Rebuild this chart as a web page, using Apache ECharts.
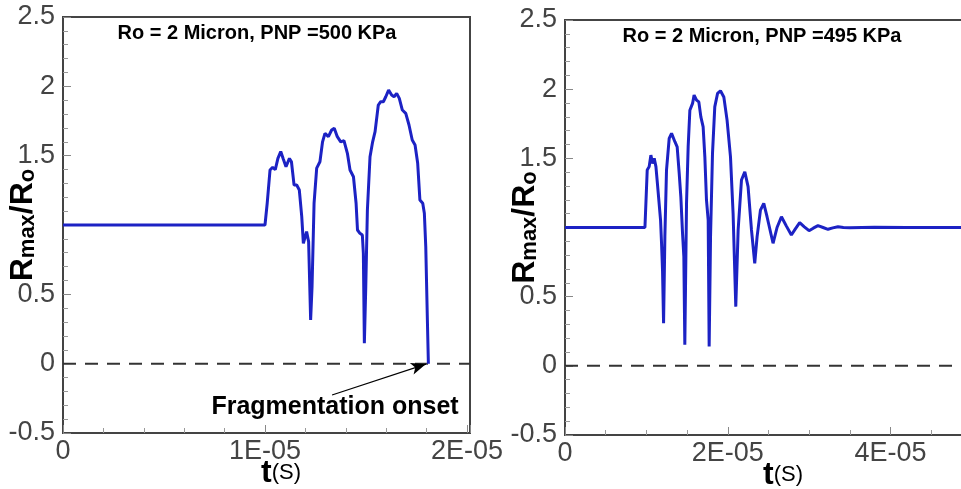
<!DOCTYPE html>
<html>
<head>
    <meta charset="utf-8">
    <script src="https://cdn.jsdelivr.net/npm/echarts@6/dist/echarts.min.js"></script>
    <style>
        html, body { margin: 0; padding: 0; background: #fff; }
        #main { width: 961px; height: 489px; }
    </style>
</head>
<body>
    <div id="main"></div>

    <script type="text/javascript">
        // time in units of 1E-05 s, radius ratio Rmax/Ro
        var leftT = [0, 1.000, 1.011, 1.025, 1.038, 1.051, 1.064, 1.078, 1.091, 1.104, 1.121, 1.131, 1.144, 1.157, 1.170, 1.182, 1.190, 1.198, 1.206, 1.216,
            1.226, 1.233, 1.243, 1.256, 1.272, 1.285, 1.297, 1.314, 1.330, 1.343, 1.358, 1.375, 1.391, 1.408, 1.421, 1.438, 1.451, 1.458, 1.470, 1.482,
            1.487, 1.492, 1.499, 1.507, 1.520, 1.533, 1.545, 1.561, 1.573, 1.586, 1.598, 1.612, 1.627, 1.639, 1.652, 1.665, 1.680, 1.697, 1.713, 1.729,
            1.743, 1.756, 1.767, 1.781, 1.789, 1.796, 1.804, 1.809];
        var leftR = [1, 1, 1.157, 1.397, 1.416, 1.40, 1.48, 1.53, 1.474, 1.42, 1.48, 1.456, 1.288, 1.288, 1.252, 1.06, 0.868, 0.868, 0.952, 0.88,
            0.315, 0.555, 1.157, 1.41, 1.456, 1.60, 1.661, 1.637, 1.685, 1.697, 1.637, 1.60, 1.608, 1.517, 1.397, 1.348, 1.157, 0.964, 0.94, 0.928,
            0.796, 0.147, 0.555, 1.108, 1.492, 1.60, 1.673, 1.865, 1.889, 1.889, 1.925, 1.973, 1.937, 1.925, 1.949, 1.913, 1.829, 1.805, 1.721, 1.613,
            1.577, 1.445, 1.18, 1.157, 1.085, 0.844, 0.315, 0.0];

        var rightT = [0, 0.982, 1.010, 1.034, 1.055, 1.076, 1.096, 1.117, 1.137, 1.157, 1.174, 1.186, 1.198, 1.211, 1.227, 1.247, 1.280, 1.309, 1.329, 1.350,
            1.378, 1.403, 1.423, 1.444, 1.460, 1.472, 1.493, 1.513, 1.534, 1.567, 1.586, 1.616, 1.644, 1.669, 1.697, 1.718, 1.738, 1.759, 1.771, 1.788,
            1.812, 1.840, 1.874, 1.910, 1.951, 1.991, 2.033, 2.065, 2.098, 2.127, 2.168, 2.209, 2.249, 2.291, 2.331, 2.360, 2.401, 2.442, 2.482, 2.556,
            2.605, 2.659, 2.720, 2.781, 2.830, 2.883, 2.940, 2.998, 3.050, 3.108, 3.170, 3.231, 3.290, 3.354, 3.420, 3.500, 3.800, 4.200, 5.000];
        var rightR = [1, 1, 1.415, 1.44, 1.523, 1.463, 1.50, 1.44, 1.307, 1.295, 1.054, 0.886, 0.693, 0.308, 0.934, 1.415, 1.644, 1.68, 1.692, 1.62,
            1.583, 1.391, 1.222, 0.958, 0.789, 0.152, 1.175, 1.583, 1.848, 1.897, 1.957, 1.921, 1.908, 1.80, 1.728, 1.511, 1.199, 1.054, 0.139, 0.934,
            1.536, 1.872, 1.969, 1.988, 1.944, 1.776, 1.511, 1.103, 0.428, 0.982, 1.343, 1.403, 1.295, 0.982, 0.741, 0.934, 1.126, 1.175, 1.078, 0.886,
            1.0, 1.078, 1.01, 0.946, 0.99, 1.035, 1.005, 0.977, 0.995, 1.013, 1.0, 0.987, 0.997, 1.006, 1.0, 0.998, 1.002, 1.0, 1.0];

        // reference line at R = 0 (dashed), one per panel
        var leftZeroT = [0, 2.015];
        var rightZeroT = [0, 5];
        var zeroR = [0, 0];

        var titles = ['Ro = 2 Micron, PNP =500 KPa', 'Ro = 2 Micron, PNP =495 KPa'];
        var onsetLabel = 'Fragmentation onset';
        var arrowFrom = [1.332, -0.226];
        var arrowTo = [1.797, -0.003];

        var FONT = 'Liberation Sans, Arial, Helvetica, sans-serif';
        var lineColor = '#1c22c4';

        function zip(t, r) {
            return t.map(function (v, i) { return [v, r[i]]; });
        }

        function xLabel(v) {
            return v === 0 ? '0' : v + 'E-05';
        }
        function yLabel(v) {
            return v === 1 ? '' : String(v);
        }

        function makeX(idx, max, interval, minorSplit) {
            return {
                gridIndex: idx, type: 'value', min: 0, max: max, interval: interval,
                name: '{t|t}{p|(S)}',
                nameLocation: 'middle', nameGap: 24, nameMoveOverlap: false,
                nameTextStyle: {
                    padding: [0, 0, 0, 29],
                    rich: {
                        t: { fontFamily: FONT, fontSize: 32, fontWeight: 'bold', color: '#000', verticalAlign: 'bottom', lineHeight: 32 },
                        p: { fontFamily: FONT, fontSize: 22, color: '#000', verticalAlign: 'bottom', lineHeight: 22, padding: [0, 0, 5, 0] }
                    }
                },
                axisLine: { show: true, onZero: false, lineStyle: { color: '#444', width: 2 } },
                axisTick: { show: true, inside: true, length: 8, lineStyle: { color: '#888', width: 1 } },
                minorTick: { show: true, splitNumber: minorSplit, length: 5, lineStyle: { color: '#999', width: 1 } },
                splitLine: { show: false },
                axisLabel: { fontFamily: FONT, fontSize: 27, color: '#444', margin: 5, formatter: xLabel, showMaxLabel: false, showMinLabel: true }
            };
        }

        function makeY(idx) {
            return {
                gridIndex: idx, type: 'value', min: -0.5, max: 2.5, interval: 0.5,
                name: '{b|R}{s|max}{b|/R}{s|o}',
                nameLocation: 'middle', nameGap: 24, nameMoveOverlap: false,
                nameTextStyle: {
                    rich: {
                        b: { fontFamily: FONT, fontSize: 32, fontWeight: 'bold', color: '#000', verticalAlign: 'bottom', lineHeight: 32 },
                        s: { fontFamily: FONT, fontSize: 22, fontWeight: 'bold', color: '#000', verticalAlign: 'bottom', lineHeight: 16 }
                    }
                },
                axisLine: { show: true, onZero: false, lineStyle: { color: '#444', width: 2 } },
                axisTick: { show: true, inside: true, length: 8, lineStyle: { color: '#888', width: 1 } },
                minorTick: { show: true, splitNumber: 5, length: 5, lineStyle: { color: '#999', width: 1 } },
                splitLine: { show: false },
                axisLabel: { fontFamily: FONT, fontSize: 27, color: '#444', margin: 8, formatter: yLabel, showMaxLabel: true, showMinLabel: true }
            };
        }

        function zeroSeries(idx, t) {
            return {
                type: 'line', xAxisIndex: idx, yAxisIndex: idx,
                data: zip(t, zeroR),
                showSymbol: false, symbol: 'none', silent: true, z: 1,
                lineStyle: { color: '#333', width: 2, type: [13, 9] }
            };
        }

        var myChart = echarts.init(document.getElementById('main'), null, { renderer: 'canvas' });
        myChart.setOption({
            animation: false,
            backgroundColor: '#fff',
            grid: [
                { left: 63, top: 17, width: 407, height: 416, outerBoundsMode: 'none', containLabel: false,
                  show: true, borderColor: '#444', borderWidth: 2, backgroundColor: 'transparent' },
                { left: 565, top: 20, width: 407, height: 415, outerBoundsMode: 'none', containLabel: false,
                  show: true, borderColor: '#444', borderWidth: 2, backgroundColor: 'transparent' }
            ],
            xAxis: [makeX(0, 2.015, 1, 5), makeX(1, 5, 2, 4)],
            yAxis: [makeY(0), makeY(1)],
            series: [
                zeroSeries(0, leftZeroT),
                zeroSeries(1, rightZeroT),
                {
                    type: 'line', xAxisIndex: 0, yAxisIndex: 0, z: 3,
                    data: zip(leftT, leftR),
                    showSymbol: false, symbol: 'none',
                    lineStyle: { color: lineColor, width: 3 },
                    markLine: {
                        silent: true, symbol: ['none', 'arrow'], symbolSize: [9, 15],
                        label: { show: false },
                        lineStyle: { type: 'solid', color: '#000', width: 1.2 },
                        data: [
                            [{ coord: arrowFrom }, { coord: arrowTo }]
                        ]
                    }
                },
                {
                    type: 'line', xAxisIndex: 1, yAxisIndex: 1, z: 3,
                    data: zip(rightT, rightR),
                    showSymbol: false, symbol: 'none',
                    lineStyle: { color: lineColor, width: 3 }
                }
            ],
            graphic: [
                { type: 'text', x: 257, y: 33, style: { text: titles[0], font: 'bold 20px ' + FONT, fill: '#000', align: 'center', verticalAlign: 'middle' } },
                { type: 'text', x: 762, y: 36, style: { text: titles[1], font: 'bold 20px ' + FONT, fill: '#000', align: 'center', verticalAlign: 'middle' } },
                { type: 'text', x: 335, y: 407, style: { text: onsetLabel, font: 'bold 25px ' + FONT, fill: '#000', align: 'center', verticalAlign: 'middle' } }
            ]
        });
    </script>
</body>
</html>
